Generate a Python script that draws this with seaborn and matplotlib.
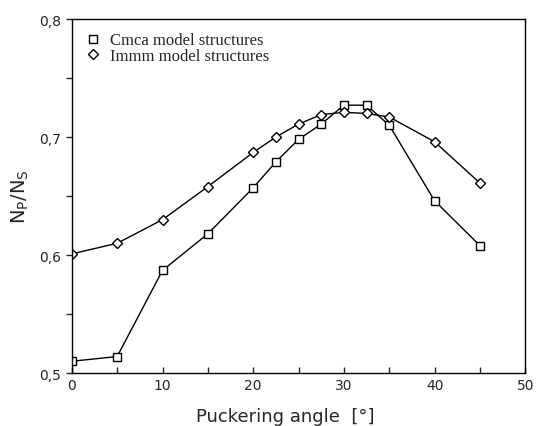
import matplotlib
matplotlib.use("Agg")
import matplotlib.pyplot as plt
import seaborn as sns
import pandas as pd
from matplotlib.ticker import MultipleLocator

angles = [0, 5, 10, 15, 20, 22.5, 25, 27.5, 30, 32.5, 35, 40, 45]
cmca = [0.510, 0.514, 0.587, 0.618, 0.657, 0.679, 0.698, 0.711, 0.727, 0.727, 0.710, 0.646, 0.608]
immm = [0.601, 0.610, 0.630, 0.658, 0.687, 0.700, 0.711, 0.719, 0.721, 0.720, 0.717, 0.696, 0.661]
series_names = ["Cmca model structures", "Immm model structures"]
xticks = [0, 10, 20, 30, 40, 50]
yticks = [0.5, 0.6, 0.7, 0.8]
ytick_labels = ["0,5", "0,6", "0,7", "0,8"]

df = pd.DataFrame({
    "angle": angles * 2,
    "ratio": cmca + immm,
    "series": [series_names[0]] * len(angles) + [series_names[1]] * len(angles),
})

sns.set_style("ticks")
plt.rcParams["font.family"] = ["DejaVu Sans"]

fig = plt.figure(figsize=(5.36, 4.27), dpi=100)
ax = fig.add_axes([0.134, 0.124, 0.846, 0.829])

sns.lineplot(data=df, x="angle", y="ratio", hue="series", style="series",
             markers={series_names[0]: "s", series_names[1]: "D"},
             dashes=False, palette=["black", "black"], ax=ax,
             markersize=5.2, markerfacecolor="white", markeredgecolor="black",
             markeredgewidth=1.0, linewidth=1.0, sort=False)

ax.set_xlim(0, 50)
ax.set_ylim(0.5, 0.8)
ax.set_xticks(xticks)
ax.set_xticklabels([str(t) for t in xticks], fontsize=10)
ax.set_yticks(yticks)
ax.set_yticklabels(ytick_labels, fontsize=10)
ax.xaxis.set_minor_locator(MultipleLocator(5))
ax.yaxis.set_minor_locator(MultipleLocator(0.05))
ax.tick_params(axis="x", which="both", direction="in", length=4, width=1)
ax.tick_params(axis="y", which="both", direction="out", length=4, width=1)
for s in ax.spines.values():
    s.set_visible(True)
    s.set_linewidth(1.0)
    s.set_color("black")

ax.set_xlabel("Puckering angle  [°]", fontsize=13, labelpad=10)
ax.xaxis.set_label_coords(0.47, -0.095)
ax.set_ylabel(r"N$_\mathregular{P}$/N$_\mathregular{S}$", fontsize=14, labelpad=6)

leg = ax.legend(loc="upper left", frameon=False, handlelength=0.9,
                handletextpad=0.6, prop={"family": "Liberation Serif", "size": 12},
                borderaxespad=0.5, labelspacing=-0.05, borderpad=0.3)
for h in leg.legend_handles:
    h.set_linestyle("None")

fig.savefig("out.png", dpi=100)
